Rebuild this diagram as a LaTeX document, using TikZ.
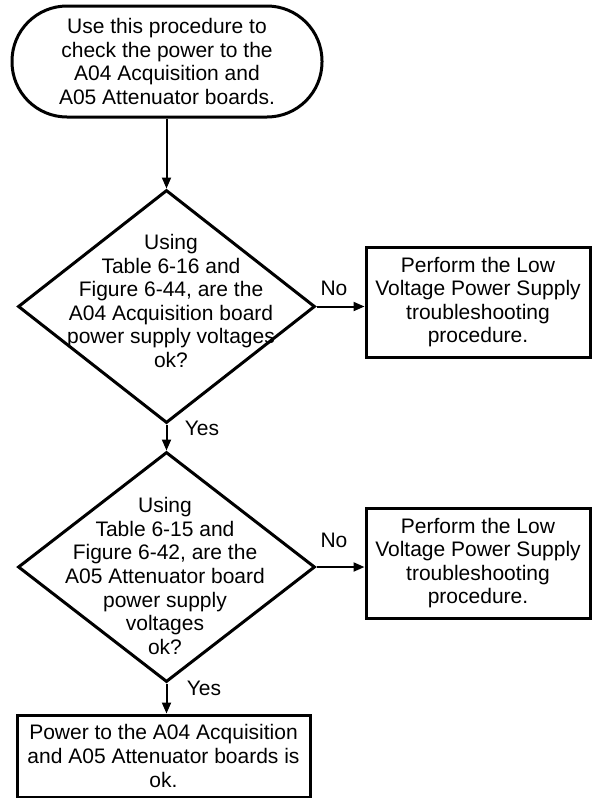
\documentclass[tikz,border=0pt]{standalone}
\usepackage{fontspec}
\setmainfont{Liberation Sans}
\usetikzlibrary{shapes.geometric,arrows.meta}
\begin{document}
\begin{tikzpicture}[x=1pt,y=-1pt,
  every node/.style={font=\fontsize{21}{23.6}\selectfont},
  shapeborder/.style={draw,line width=3pt},
  term/.style={shapeborder, rectangle, rounded corners=55pt, minimum width=310pt, minimum height=111pt, inner sep=0pt, align=center},
  dia/.style={shapeborder, diamond, minimum width=297pt, minimum height=233pt, inner sep=0pt},
  txt/.style={align=center, inner sep=0pt},
  procbox/.style={shapeborder, rectangle, align=center, inner sep=0pt},
  conn/.style={line width=2pt, -{Triangle[length=11pt,width=9pt]}},
  lbl/.style={inner sep=0pt}
]
\useasboundingbox (0,0) rectangle (592,798);

\node[term] (start) at (167,61.5) {Use this procedure to\\check the power to the\\A04 Acquisition and\\A05 Attenuator boards.};

\node[dia] (d1) at (166.5,306.5) {};
\node[txt] (d1t) at (171,301) {Using\\Table 6-16 and\\Figure 6-44, are the\\A04 Acquisition board\\power supply voltages\\ok?};

\node[procbox, minimum width=224pt, minimum height=110pt] (b1) at (478,302) {Perform the Low\\Voltage Power Supply\\troubleshooting\\procedure.};

\node[dia, minimum height=230pt] (d2) at (166.5,567) {};
\node[txt] (d2t) at (165,576) {Using\\Table 6-15 and\\Figure 6-42, are the\\A05 Attenuator board\\power supply\\voltages\\ok?};

\node[procbox, minimum width=224pt, minimum height=110pt] (b2) at (478,563) {Perform the Low\\Voltage Power Supply\\troubleshooting\\procedure.};

\node[procbox, minimum width=293pt, minimum height=82pt] (fin) at (163.5,756) {Power to the A04 Acquisition\\and A05 Attenuator boards is\\ok.};

\draw[conn] (start.south -| d1.north) -- (d1.north);
\draw[conn] (d1.east) -- (d1.east -| b1.west);
\draw[conn] (d1.south) -- (d2.north);
\draw[conn] (d2.east) -- (d2.east -| b2.west);
\draw[conn] (d2.south) -- (d2.south |- fin.north);

\node[lbl] (no1) at (334,288) {No};
\node[lbl] (no2) at (334,540) {No};
\node[lbl] (yes1) at (202,428) {Yes};
\node[lbl] (yes2) at (204,688) {Yes};
\end{tikzpicture}
\end{document}
